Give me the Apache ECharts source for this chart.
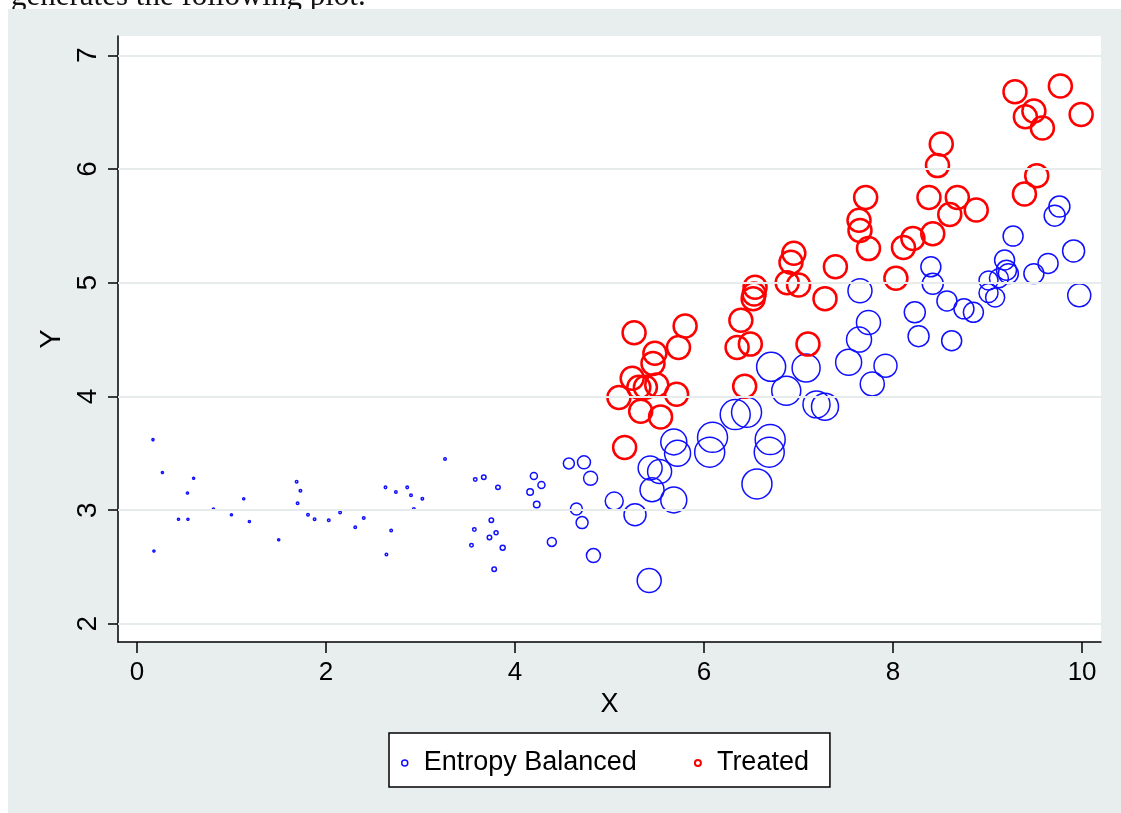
<!DOCTYPE html>
<html>
<head>
<meta charset="utf-8">
<script src="https://cdn.jsdelivr.net/npm/echarts@6/dist/echarts.min.js"></script>
<style>html,body{margin:0;padding:0;background:#fff}#c{width:1121px;height:813px}</style>
</head>
<body>
<div id="c"></div>
<script>
// Tick labels
const xTicks = [0, 2, 4, 6, 8, 10];
const yTicks = [2, 3, 4, 5, 6, 7];

// Entropy Balanced (control) units: X, Y and balancing weight
const ebX = [0.17,0.27,0.60,0.535,0.81,0.44,0.54,0.18,1.13,1.00,1.19,1.50,
  1.69,1.73,1.70,1.81,1.88,2.03,2.15,2.31,2.40,2.63,2.74,2.86,2.90,3.02,2.93,2.69,2.64,3.26,
  3.58,3.67,3.82,3.57,3.75,3.73,3.80,3.54,3.87,3.78,
  4.20,4.28,4.16,4.23,4.39,4.57,4.73,4.80,4.65,4.71,4.83,
  5.05,5.27,5.42,5.43,5.53,5.45,5.68,5.68,5.72,
  6.09,6.06,6.33,6.45,6.56,6.70,6.69,6.71,6.87,7.08,7.19,7.28,
  7.53,7.64,7.74,7.65,7.78,7.92,8.23,8.27,8.40,8.42,8.57,8.62,8.75,8.85,
  9.01,9.01,9.08,9.12,9.18,9.20,9.22,9.27,9.49,9.64,9.71,9.76,9.91,9.97];
const ebY = [3.62,3.33,3.28,3.15,3.01,2.92,2.92,2.64,3.10,2.96,2.90,2.74,
  3.25,3.17,3.06,2.96,2.92,2.91,2.98,2.85,2.93,3.20,3.16,3.20,3.13,3.10,3.01,2.82,2.61,3.45,
  3.27,3.29,3.20,2.83,2.91,2.76,2.80,2.69,2.67,2.48,
  3.30,3.22,3.16,3.05,2.72,3.41,3.42,3.28,3.01,2.89,2.60,
  3.08,2.96,2.38,3.37,3.34,3.18,3.09,3.60,3.50,
  3.64,3.51,3.84,3.86,3.23,3.62,3.51,4.26,4.05,4.25,3.93,3.91,
  4.30,4.50,4.65,4.93,4.11,4.27,4.74,4.53,5.14,4.99,4.84,4.49,4.77,4.74,
  5.02,4.91,4.87,5.04,5.20,5.11,5.08,5.41,5.08,5.17,5.59,5.67,5.28,4.89];
const ebW = [0.008,0.008,0.008,0.008,0.008,0.008,0.008,0.008,0.008,0.008,0.008,0.008,
  0.012,0.012,0.012,0.012,0.012,0.012,0.012,0.012,0.012,0.012,0.012,0.012,0.012,0.012,0.012,0.012,0.012,0.012,
  0.023,0.038,0.038,0.023,0.038,0.038,0.030,0.023,0.047,0.038,
  0.093,0.093,0.080,0.080,0.153,0.229,0.319,0.371,0.272,0.272,0.371,
  0.612,0.915,1.089,1.089,1.089,1.089,1.278,1.278,1.278,
  1.701,1.701,1.701,1.701,1.701,1.701,1.701,1.590,1.590,1.482,1.378,1.378,
  1.278,1.181,1.089,1.089,1.089,1.000,0.834,0.834,0.756,0.834,0.756,0.756,0.756,0.756,
  0.682,0.682,0.682,0.682,0.756,0.756,0.756,0.756,0.756,0.756,0.834,0.834,0.915,1.000];

// Treated units (weight 1 each)
const trX = [5.26,5.80,5.73,5.48,5.46,5.24,5.31,5.38,5.50,5.71,5.10,5.33,5.54,5.16,
  6.54,6.53,6.52,6.39,6.35,6.49,6.43,7.10,6.88,7.00,6.92,6.95,7.28,7.39,
  7.71,7.64,7.65,7.74,8.03,8.11,8.21,8.42,8.38,8.68,8.60,8.88,8.47,8.51,
  9.39,9.52,9.29,9.77,9.40,9.49,9.58,9.99];
const trY = [4.56,4.62,4.43,4.38,4.29,4.16,4.08,4.08,4.10,4.02,3.99,3.87,3.82,3.55,
  4.96,4.90,4.86,4.67,4.43,4.46,4.09,4.46,5.00,4.98,5.18,5.26,4.86,5.14,
  5.75,5.55,5.46,5.30,5.04,5.31,5.39,5.43,5.75,5.75,5.60,5.64,6.03,6.22,
  5.78,5.94,6.68,6.73,6.46,6.51,6.36,6.48];
const trWeight = 1;

const ebData = ebX.map((x, i) => [x, ebY[i], ebW[i]]);
const trData = trX.map((x, i) => [x, trY[i], trWeight]);

const FONT = '"Liberation Sans", Arial, Helvetica, sans-serif';
const sizeOf = v => 23 * Math.sqrt(v[2]);

const chart = echarts.init(document.getElementById('c'), null, {renderer: 'canvas'});
chart.setOption({
  backgroundColor: '#e8eeee',
  animation: false,
  graphic: [
    {type: 'rect', shape: {x: 0, y: 0, width: 1121, height: 9}, style: {fill: '#ffffff'}},
    {type: 'rect', shape: {x: 0, y: 0, width: 8, height: 813}, style: {fill: '#ffffff'}},
    {type: 'text', x: 11, y: -3, style: {text: 'generates the following plot.', font: '31px "Liberation Serif", "Times New Roman", serif', fill: '#111', verticalAlign: 'middle', align: 'left'}},
    {type: 'rect', shape: {x: 8, y: 9, width: 1113, height: 20}, style: {fill: '#e8eeee'}}
  ],
  grid: {left: 118, top: 36, right: 20, bottom: 171, show: true, backgroundColor: '#ffffff', borderWidth: 0},
  xAxis: {
    type: 'value', min: -0.2, max: 10.2,
    name: 'X', nameLocation: 'middle', nameGap: 48,
    nameTextStyle: {fontFamily: FONT, fontSize: 27, color: '#000'},
    axisLine: {show: true, onZero: false, lineStyle: {color: '#000', width: 1.5}},
    axisTick: {show: true, length: 11, lineStyle: {color: '#000', width: 1.5}, customValues: xTicks},
    axisLabel: {fontFamily: FONT, fontSize: 26, color: '#000', margin: 18, customValues: xTicks},
    splitLine: {show: false}
  },
  yAxis: {
    type: 'value', min: 1.84, max: 7.17,
    name: 'Y', nameLocation: 'middle', nameGap: 47, nameRotate: 90,
    nameTextStyle: {fontFamily: FONT, fontSize: 29, color: '#000'},
    axisLine: {show: true, onZero: false, lineStyle: {color: '#000', width: 1.5}},
    axisTick: {show: true, length: 10, lineStyle: {color: '#000', width: 1.5}, customValues: yTicks},
    axisLabel: {fontFamily: FONT, fontSize: 28, color: '#000', margin: 16, rotate: 90, customValues: yTicks},
    splitLine: {show: false}
  },
  legend: {
    left: 389, top: 733,
    data: [
      {name: 'Entropy Balanced', itemStyle: {borderWidth: 1.5}},
      {name: 'Treated', itemStyle: {borderWidth: 2}}
    ],
    itemWidth: 28, itemHeight: 6, itemGap: 57,
    padding: [15, 21, 9, 12],
    backgroundColor: '#ffffff', borderColor: '#000', borderWidth: 1.5,
    textStyle: {fontFamily: FONT, fontSize: 27, color: '#000', lineHeight: 30}
  },
  series: [
    {
      name: 'grid', type: 'scatter', data: [], z: 1, silent: true,
      markLine: {
        silent: true, symbol: ['none', 'none'], label: {show: false},
        lineStyle: {color: '#e6ecec', width: 2, type: 'solid'},
        data: yTicks.map(v => ({yAxis: v}))
      }
    },
    {
      name: 'Entropy Balanced', type: 'scatter', data: ebData, z: 3,
      symbol: 'circle', symbolSize: sizeOf,
      itemStyle: {color: 'rgba(0,0,0,0)', borderColor: '#1010ff', borderWidth: 1.5, opacity: 1},
      emphasis: {disabled: true}
    },
    {
      name: 'Treated', type: 'scatter', data: trData, z: 4,
      symbol: 'circle', symbolSize: sizeOf,
      itemStyle: {color: 'rgba(0,0,0,0)', borderColor: '#ff0000', borderWidth: 2.5, opacity: 1},
      emphasis: {disabled: true}
    }
  ]
});
</script>
</body>
</html>
